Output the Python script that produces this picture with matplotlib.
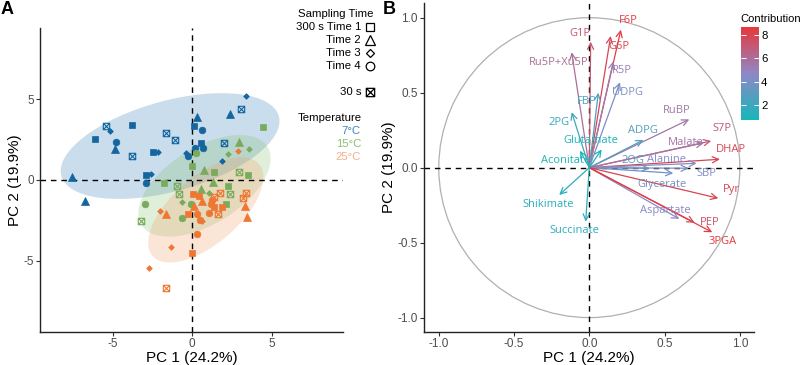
import numpy as np
import matplotlib
matplotlib.use('Agg')
import matplotlib.pyplot as plt
from matplotlib.patches import Ellipse, Circle
from matplotlib.path import Path
from matplotlib.lines import Line2D
from matplotlib.colors import LinearSegmentedColormap, Normalize
from matplotlib.cm import ScalarMappable

plt.rcParams['font.family'] = ['Liberation Sans', 'DejaVu Sans']
plt.rcParams['axes.unicode_minus'] = False

# ---------------- Panel A data (PCA individuals) ----------------
# time codes: T1..T4 = 300 s Time 1..4, X = 30 s
pc1_7C = [-6.16, -3.78, 0.08, 0.53, -2.50, -2.92,
          -7.58, -6.76, -4.85, 0.32, 2.37,
          3.40, -5.17, -2.14, -2.58, -0.38, 1.85,
          -4.79, 0.59, 0.15, 0.67, -0.29, -2.92,
          -5.44, -1.64, -1.07, -3.80, 3.07, 1.97]
pc2_7C = [2.55, 3.40, 3.33, 2.26, 1.71, 0.33,
          0.20, -1.30, 1.93, 3.90, 4.07,
          5.19, 3.02, 1.71, 0.37, 1.69, 1.19,
          2.33, 3.09, 1.98, 2.00, 1.50, -0.19,
          3.37, 2.88, 2.49, 1.48, 4.36, 2.26]
time_7C = ['T1'] * 6 + ['T2'] * 5 + ['T3'] * 6 + ['T4'] * 6 + ['X'] * 6

pc1_15C = [4.47, -0.02, 1.37, 3.51, -1.81, 2.23, 2.10,
           2.94, 0.74, 1.28, 0.57,
           2.23, 3.57, -0.67, 1.05,
           0.23, -2.98, -0.67, -0.05,
           -0.97, -0.82, -3.26, 2.39, 2.94]
pc2_15C = [3.27, 0.86, 0.47, 0.29, -0.16, -0.39, -1.46,
           2.33, 0.62, -0.10, -0.58,
           1.63, 1.89, -1.36, -0.78,
           1.65, -1.46, -2.35, -1.48,
           -0.35, -0.84, -2.53, -0.86, 0.51]
time_15C = ['T1'] * 7 + ['T2'] * 4 + ['T3'] * 4 + ['T4'] * 4 + ['X'] * 5

pc1_25C = [0.04, -0.04, -0.29, 1.34, 1.89, 0.45,
           -1.68, 0.61, 3.34, 3.47, 0.08,
           -2.04, -1.32, -2.73, 2.88, 0.63,
           0.27, 1.03, 0.29, 1.24, 0.50, 1.20,
           -1.68, 1.62, 1.72, 1.34, 3.40, 3.21]
pc2_25C = [-0.88, -4.49, -2.08, -1.65, -1.69, -1.00,
           -2.12, -1.32, -1.58, -2.26, -1.60,
           -1.93, -4.12, -5.43, 1.81, -2.53,
           -3.37, -2.06, -2.10, -1.23, -2.47, -1.50,
           -6.69, -2.12, -0.78, -1.03, -0.78, -1.09]
time_25C = ['T1'] * 6 + ['T2'] * 5 + ['T3'] * 5 + ['T4'] * 6 + ['X'] * 6

# group ellipses: centre x, centre y, full width, full height, angle
ell_7C = [-1.4, 2.1, 14.2, 5.6, 15]
ell_15C = [0.77, -0.36, 9.3, 4.75, 31]
ell_25C = [0.85, -1.85, 8.8, 4.2, 40]

# ---------------- Panel B data (PCA variables) ----------------
variables = ['F6P', 'G6P', 'G1P', 'Ru5P+Xu5P', 'R5P', 'UDPG', 'FBP', '2PG',
             'RuBP', 'ADPG', 'S7P', 'Malate', 'DHAP', '2OG', 'Alanine', 'SBP',
             'Glycerate', 'Pyr', 'Aspartate', 'PEP', '3PGA', 'Shikimate',
             'Succinate', 'Glutamate', 'Aconitate']
load_pc1 = [0.21, 0.142, 0.009, -0.117, 0.16, 0.204, 0.06, -0.117,
            0.664, 0.36, 0.81, 0.76, 0.868, 0.40, 0.713, 0.66,
            0.558, 0.857, 0.598, 0.70, 0.817, -0.20,
            -0.024, 0.082, -0.062]
load_pc2 = [0.92, 0.878, 0.84, 0.77, 0.71, 0.57, 0.50, 0.37,
            0.322, 0.185, 0.178, 0.165, 0.056, -0.004, 0.029, -0.004,
            -0.037, -0.204, -0.342, -0.367, -0.431, -0.182,
            -0.36, 0.122, 0.113]
contrib = [8.5, 8.0, 7.2, 6.0, 5.2, 4.0, 2.6, 1.9,
           5.6, 2.7, 7.0, 5.6, 8.0, 3.0, 4.4, 4.2,
           3.8, 8.0, 4.6, 7.5, 8.5, 1.3,
           1.4, 0.9, 0.8]
label_xy = [(0.261, 0.984), (0.197, 0.811), (-0.062, 0.896), (-0.206, 0.702),
            (0.215, 0.647), (0.255, 0.50), (-0.018, 0.44), (-0.204, 0.30),
            (0.58, 0.38), (0.354, 0.247), (0.884, 0.262), (0.642, 0.167),
            (0.939, 0.118), (0.292, 0.051), (0.514, 0.056), (0.78, -0.038),
            (0.485, -0.111), (0.941, -0.149), (0.505, -0.287), (0.797, -0.367),
            (0.884, -0.493), (-0.27, -0.244), (-0.102, -0.422), (0.009, 0.18),
            (-0.155, 0.047)]

# ---------------- styling ----------------
W, H = 800, 365
fig = plt.figure(figsize=(8, 3.65), dpi=100)

def fx(px):
    return px / W

def fy(py):
    return 1 - py / H

col_pts = {'7C': '#15659f', '15C': '#78ab5c', '25C': '#ee7733'}
col_ell = {'7C': '#2878b5', '15C': '#86c06a', '25C': '#f29a62'}
col_leg = {'7C': '#3d84bb', '15C': '#8cc070', '25C': '#f5b08c'}

xsq = Path([(-1, -1), (1, -1), (1, 1), (-1, 1), (-1, -1),
            (-1, -1), (1, 1), (-1, 1), (1, -1)],
           [Path.MOVETO, Path.LINETO, Path.LINETO, Path.LINETO, Path.CLOSEPOLY,
            Path.MOVETO, Path.LINETO, Path.MOVETO, Path.LINETO])
mk = {'T1': ('s', 4.4), 'T2': ('^', 5.2), 'T3': ('D', 2.9), 'T4': ('o', 4.8), 'X': (xsq, 4.6)}

tick_col = '#4d4d4d'

# ---------------- Panel A ----------------
axA = fig.add_axes([fx(40), fy(332), fx(343 - 40), (332 - 28) / H])
axA.set_xlim(-9.6, 9.5)
axA.set_ylim(-9.4, 9.4)
for key, e in [('7C', ell_7C), ('15C', ell_15C), ('25C', ell_25C)]:
    axA.add_patch(Ellipse((e[0], e[1]), e[2], e[3], angle=e[4],
                          facecolor=col_ell[key], alpha=0.25, edgecolor='none', zorder=1))
axA.axhline(0, color='black', lw=1, ls=(0, (4, 3.5)), zorder=2)
axA.axvline(0, color='black', lw=1, ls=(0, (4, 3.5)), zorder=2)
for key, xs, ys, ts in [('7C', pc1_7C, pc2_7C, time_7C),
                        ('15C', pc1_15C, pc2_15C, time_15C),
                        ('25C', pc1_25C, pc2_25C, time_25C)]:
    xs = np.array(xs); ys = np.array(ys); ts = np.array(ts)
    for t, (m, s) in mk.items():
        sel = ts == t
        if t == 'X':
            axA.plot(xs[sel], ys[sel], ls='none', marker=m, ms=s, mfc='none',
                     mec=col_pts[key], mew=0.8, zorder=3)
        else:
            axA.plot(xs[sel], ys[sel], ls='none', marker=m, ms=s, mfc=col_pts[key],
                     mec=col_pts[key], mew=0.5, zorder=3)
axA.set_xticks([-5, 0, 5])
axA.set_yticks([-5, 0, 5])
for sp in ['top', 'right']:
    axA.spines[sp].set_visible(False)
for sp in ['left', 'bottom']:
    axA.spines[sp].set_linewidth(1.0)
    axA.spines[sp].set_color('#222222')
axA.tick_params(length=3, width=0.8, color='#333333', labelcolor=tick_col, labelsize=8.5, pad=1.5)
axA.set_xlabel('PC 1 (24.2%)', fontsize=11, labelpad=0.5)
axA.set_ylabel('PC 2 (19.9%)', fontsize=11, labelpad=1)

# Panel A legend (drawn in figure pixel coordinates)
fs_leg = 8.2
fig.text(fx(298), fy(14), 'Sampling Time', ha='left', va='center', fontsize=fs_leg)
leg_rows = [('300 s Time 1', 27, 's', 6.0), ('Time 2', 40, '^', 7.4),
            ('Time 3', 53, 'D', 3.6), ('Time 4', 66, 'o', 6.2), ('30 s', 92, xsq, 6.0)]
for lab, py, m, s in leg_rows:
    fig.text(fx(361), fy(py), lab, ha='right', va='center', fontsize=fs_leg)
    fig.add_artist(Line2D([fx(369.5)], [fy(py)], transform=fig.transFigure, ls='none',
                          marker=m, ms=s, mfc='none', mec='black', mew=0.9))
fig.text(fx(298), fy(118), 'Temperature', ha='left', va='center', fontsize=fs_leg)
for lab, py, key in [('7°C', 131, '7C'), ('15°C', 144, '15C'), ('25°C', 157, '25C')]:
    fig.text(fx(361), fy(py), lab, ha='right', va='center', fontsize=fs_leg, color=col_leg[key])

# ---------------- Panel B ----------------
cmap = LinearSegmentedColormap.from_list('contrib', ['#17b6b8', '#8e88c6', '#e8373a'])
norm = Normalize(vmin=0.7, vmax=8.7)

axB = fig.add_axes([fx(424), fy(332), fx(754 - 424), (332 - 3) / H])
axB.set_xlim(-1.098, 1.094)
axB.set_ylim(-1.096, 1.098)
axB.add_patch(Circle((0, 0), 1.0, fill=False, ec='#b0b0b0', lw=0.9, zorder=1))
axB.axhline(0, color='black', lw=1, ls=(0, (4, 3.5)), zorder=2)
axB.axvline(0, color='black', lw=1, ls=(0, (4, 3.5)), zorder=2)
for name, x, y, c, (lx, ly) in zip(variables, load_pc1, load_pc2, contrib, label_xy):
    col = cmap(norm(c))
    axB.annotate('', xy=(x, y), xytext=(0, 0),
                 arrowprops=dict(arrowstyle='->,head_length=0.45,head_width=0.22',
                                 color=col, lw=0.9, shrinkA=0, shrinkB=0), zorder=3)
    axB.text(lx, ly, name, ha='center', va='center', color=col, fontsize=8,
             family=['Open Sans', 'DejaVu Sans'], zorder=4)
axB.set_xticks([-1.0, -0.5, 0.0, 0.5, 1.0])
axB.set_yticks([-1.0, -0.5, 0.0, 0.5, 1.0])
axB.set_xticklabels(['-1.0', '-0.5', '0.0', '0.5', '1.0'])
axB.set_yticklabels(['-1.0', '-0.5', '0.0', '0.5', '1.0'])
for sp in ['top', 'right']:
    axB.spines[sp].set_visible(False)
for sp in ['left', 'bottom']:
    axB.spines[sp].set_linewidth(1.0)
    axB.spines[sp].set_color('#222222')
axB.tick_params(length=3, width=0.8, color='#333333', labelcolor=tick_col, labelsize=8.5, pad=1.5)
axB.set_xlabel('PC 1 (24.2%)', fontsize=11, labelpad=0.5)
axB.set_ylabel('PC 2 (19.9%)', fontsize=11, labelpad=1)

# colorbar
cax = fig.add_axes([fx(741), fy(120), fx(18), (120 - 27) / H])
cb = fig.colorbar(ScalarMappable(norm=norm, cmap=cmap), cax=cax)
cb.outline.set_visible(False)
cb.set_ticks([2, 4, 6, 8])
cax.tick_params(direction='in', length=3.5, width=0.7, color='white', labelsize=8.2,
                left=True, right=True, labelleft=False, labelright=True, pad=1.5)
fig.text(fx(740), fy(19), 'Contribution', ha='left', va='center', fontsize=8)

# panel tags
fig.text(fx(7), fy(10), 'A', ha='center', va='center', fontsize=13, fontweight='bold')
fig.text(fx(389), fy(10), 'B', ha='center', va='center', fontsize=13, fontweight='bold')

fig.savefig('out.png', dpi=100)
